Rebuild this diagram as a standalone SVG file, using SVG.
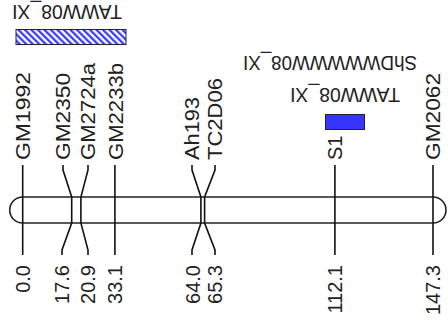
<svg xmlns="http://www.w3.org/2000/svg" width="448" height="324" viewBox="0 0 448 324">
  <style>
    .lbl { font-family: "Liberation Sans", Arial, sans-serif; font-size: 20px; fill: #222; }
    .qtl { font-family: "Liberation Sans", Arial, sans-serif; font-size: 21px; fill: #222; text-anchor: middle; }
    .num { text-anchor: end; }
    .link { fill: none; stroke: #111; stroke-width: 1.6; }
    .chrom { fill: #fff; stroke: #222; stroke-width: 1.6; }
    .bar { stroke: #223; stroke-width: 1; }
  </style>
  <defs>
    <pattern id="hatch" patternUnits="userSpaceOnUse" width="4.6" height="4.6" patternTransform="rotate(-45)">
      <rect width="4.6" height="4.6" fill="#fff"/>
      <rect width="2.3" height="4.6" fill="#3b3bff"/>
    </pattern>
  </defs>

  <rect width="448" height="324" fill="#fff"/>

  <!-- QTL intervals -->
  <g id="qtl-TAWW08-1">
    <rect class="bar" x="16" y="29.5" width="110" height="15" fill="url(#hatch)"/>
    <text class="qtl" transform="translate(67,4.5) rotate(180)" textLength="110" lengthAdjust="spacingAndGlyphs">TAWW08_XI</text>
  </g>
  <g id="qtl-ShDWWWWW08">
    <text class="qtl" transform="translate(330,56) rotate(180)" textLength="174" lengthAdjust="spacingAndGlyphs">ShDWWWWW08_XI</text>
  </g>
  <g id="qtl-TAWW08-2">
    <rect class="bar" x="325.5" y="114.5" width="39" height="15" fill="#3535ff"/>
    <text class="qtl" transform="translate(345,88) rotate(180)" textLength="110" lengthAdjust="spacingAndGlyphs">TAWW08_XI</text>
  </g>

  <!-- linkage group bar -->
  <g id="chromosome">
    <path class="chrom" d="M22.7,197 H433 A13,13 0 0 1 433,223 H22.7 A13,13 0 0 1 22.7,197 Z"/>
  </g>

  <!-- marker connectors -->
  <g id="connectors">
    <path class="link" d="M22.7,165 V255"/>
    <path class="link" d="M63,165 V170 L71.7,197 V223 L62,250 V255"/>
    <path class="link" d="M88,165 V170 L80.9,197 V223 L88,250 V255"/>
    <path class="link" d="M114.9,165 V255"/>
    <path class="link" d="M192,165 V170 L200.9,197 V223 L192,250 V255"/>
    <path class="link" d="M215,165 V170 L204.6,197 V223 L215,250 V255"/>
    <path class="link" d="M334.9,165 V255"/>
    <path class="link" d="M433,165 V255"/>
  </g>

  <!-- markers: name above, position (cM) below -->
  <g id="m-GM1992">
    <text class="lbl" transform="translate(30,160) rotate(-90)" textLength="88" lengthAdjust="spacingAndGlyphs">GM1992</text>
    <text class="lbl num" transform="translate(30,265) rotate(-90)">0.0</text>
  </g>
  <g id="m-GM2350">
    <text class="lbl" transform="translate(70,160) rotate(-90)" textLength="87" lengthAdjust="spacingAndGlyphs">GM2350</text>
    <text class="lbl num" transform="translate(69,265) rotate(-90)">17.6</text>
  </g>
  <g id="m-GM2724a">
    <text class="lbl" transform="translate(95,160) rotate(-90)" textLength="97" lengthAdjust="spacingAndGlyphs">GM2724a</text>
    <text class="lbl num" transform="translate(95,265) rotate(-90)">20.9</text>
  </g>
  <g id="m-GM2233b">
    <text class="lbl" transform="translate(123,160) rotate(-90)" textLength="97" lengthAdjust="spacingAndGlyphs">GM2233b</text>
    <text class="lbl num" transform="translate(122,265) rotate(-90)">33.1</text>
  </g>
  <g id="m-Ah193">
    <text class="lbl" transform="translate(199,160) rotate(-90)" textLength="63" lengthAdjust="spacingAndGlyphs">Ah193</text>
    <text class="lbl num" transform="translate(200,265) rotate(-90)">64.0</text>
  </g>
  <g id="m-TC2D06">
    <text class="lbl" transform="translate(222,160) rotate(-90)" textLength="82" lengthAdjust="spacingAndGlyphs">TC2D06</text>
    <text class="lbl num" transform="translate(222,265) rotate(-90)">65.3</text>
  </g>
  <g id="m-S1">
    <text class="lbl" transform="translate(342,160) rotate(-90)">S1</text>
    <text class="lbl num" transform="translate(342,265) rotate(-90)">112.1</text>
  </g>
  <g id="m-GM2062">
    <text class="lbl" transform="translate(440,160) rotate(-90)" textLength="87" lengthAdjust="spacingAndGlyphs">GM2062</text>
    <text class="lbl num" transform="translate(440,265) rotate(-90)">147.3</text>
  </g>
</svg>
